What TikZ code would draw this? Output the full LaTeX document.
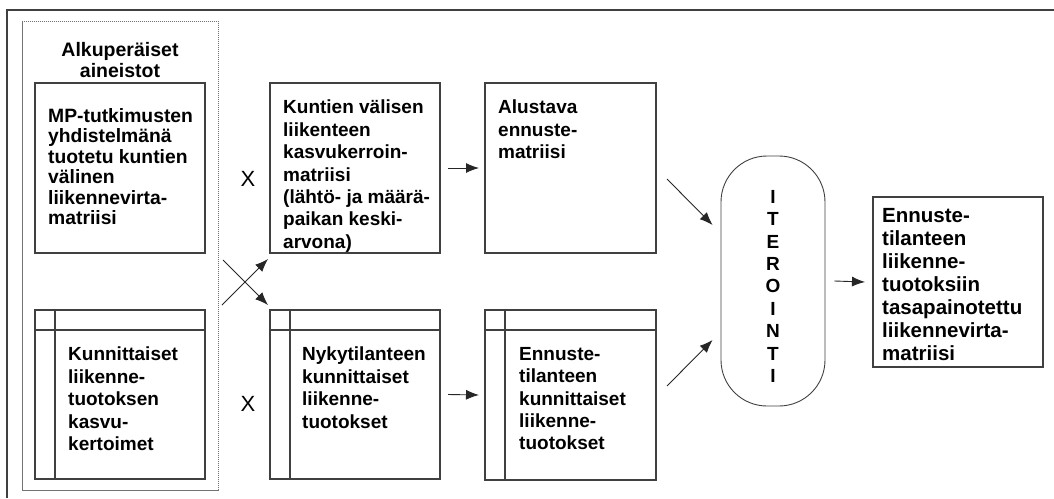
\documentclass[tikz,border=0pt]{standalone}
\usepackage{fontspec}
\setmainfont{Liberation Sans}
\usetikzlibrary{arrows.meta}
\tikzset{
  box/.style={draw=black!75, line width=1.1pt, minimum width=170pt, minimum height=170pt, inner sep=0pt, outer sep=0pt, anchor=north west},
  txt/.style={inner sep=0pt, anchor=north west, align=left, font=\fontsize{19}{22.4}\selectfont\bfseries},
  arr/.style={draw=black!85, line width=0.9pt, -{Latex[length=13pt,width=10pt]}},
  kerroin/.style={inner sep=0pt, font=\fontsize{22}{24}\selectfont}
}
\begin{document}
\begin{tikzpicture}[x=1pt,y=-1pt]
	\useasboundingbox (0,0) rectangle (1054,498);
	% outer frame, cut by the page edge
	\draw [line width=1.4pt, black!75] (7,498) -- (7,10) -- (1054,10);
	% original data
	\node [draw=black!55, line width=0.9pt, dash pattern=on 1.2pt off 0.8pt, minimum width=196pt, minimum height=469pt, inner sep=0pt, anchor=north west] (aineisto) at (22,21) {};
	\node [txt, anchor=north, align=center, font=\fontsize{19.5}{21}\selectfont\bfseries] (otsikko) at (120,42) {Alkuperäiset\\aineistot};
	\node [box] (mp) at (35,83) {};
	\node [txt, font=\fontsize{19.3}{20.5}\selectfont\bfseries] (mptxt) at (48,108) {MP-tutkimusten\\yhdistelmänä\\tuotetu kuntien\\välinen\\liikennevirta-\\matriisi};
	\node [box, minimum height=169pt] (kunn) at (35,310) {};
	\node [txt] (kunntxt) at (68,347) {Kunnittaiset\\liikenne-\\tuotoksen\\kasvu-\\kertoimet};
	% middle column
	\node [box] (kerroin) at (270,83) {};
	\node [txt] (kerrointxt) at (283,100) {Kuntien välisen\\liikenteen\\kasvukerroin-\\matriisi\\(lähtö- ja määrä-\\paikan keski-\\arvona)};
	\node [box, minimum height=169pt] (nyky) at (270,310) {};
	\node [txt] (nykytxt) at (302,347) {Nykytilanteen\\kunnittaiset\\liikenne-\\tuotokset};
	\node [kerroin] (x1) at (248,179) {X};
	\node [kerroin] (x2) at (248,404) {X};
	% forecast column
	\node [box, minimum width=171pt] (alustava) at (485,83) {};
	\node [txt] (alustavatxt) at (498,100) {Alustava\\ennuste-\\matriisi};
	\node [box, minimum width=171pt] (ennuste) at (485,310) {};
	\node [txt] (ennustetxt) at (519,347) {Ennuste-\\tilanteen\\kunnittaiset\\liikenne-\\tuotokset};
	% table headers
	\foreach \t in {kunn,nyky,ennuste} {
		\draw [draw=black!75, line width=1.1pt] ([yshift=-20pt]\t.north west) -- ([yshift=-20pt]\t.north east);
		\draw [draw=black!75, line width=1.1pt] ([xshift=20pt]\t.north west) -- ([xshift=20pt]\t.south west);
	}
	% iteration
	\node [draw=black!75, line width=0.9pt, rounded corners=46pt, minimum width=104pt, minimum height=250pt, inner sep=0pt] (iter) at (773,281) {};
	\node [inner sep=0pt, anchor=north, align=center, font=\fontsize{19}{22.4}\selectfont\bfseries] (itertxt) at (773,190) {I\\T\\E\\R\\O\\I\\N\\T\\I};
	\node [box] (tulos) at (873,197) {};
	\node [txt, font=\fontsize{20.5}{23}\selectfont\bfseries] (tulostxt) at (882,208) {Ennuste-\\tilanteen\\liikenne-\\tuotoksiin\\tasapainotettu\\liikennevirta-\\matriisi};
	% arrows
	\draw [arr] ([xshift=18pt,yshift=-7pt]mp.south east) -- ([xshift=-2pt,yshift=5pt]nyky.north west);
	\draw [arr] ([xshift=17pt,yshift=5pt]kunn.north east) -- ([xshift=-2pt,yshift=-6pt]kerroin.south west);
	\draw [arr] ([xshift=8pt]kerroin.east) -- ([xshift=-6pt]alustava.west);
	\draw [arr] ([xshift=8pt]nyky.east) -- ([xshift=-6pt]ennuste.west);
	\draw [arr] ([xshift=11pt,yshift=-11pt]alustava.east) -- ([xshift=-8pt,yshift=56pt]iter.west);
	\draw [arr] ([xshift=11pt,yshift=9pt]ennuste.east) -- ([xshift=-8pt,yshift=-59pt]iter.west);
	\draw [arr] ([xshift=9pt]iter.east) -- ([xshift=-8pt]tulos.west);
\end{tikzpicture}
\end{document}
